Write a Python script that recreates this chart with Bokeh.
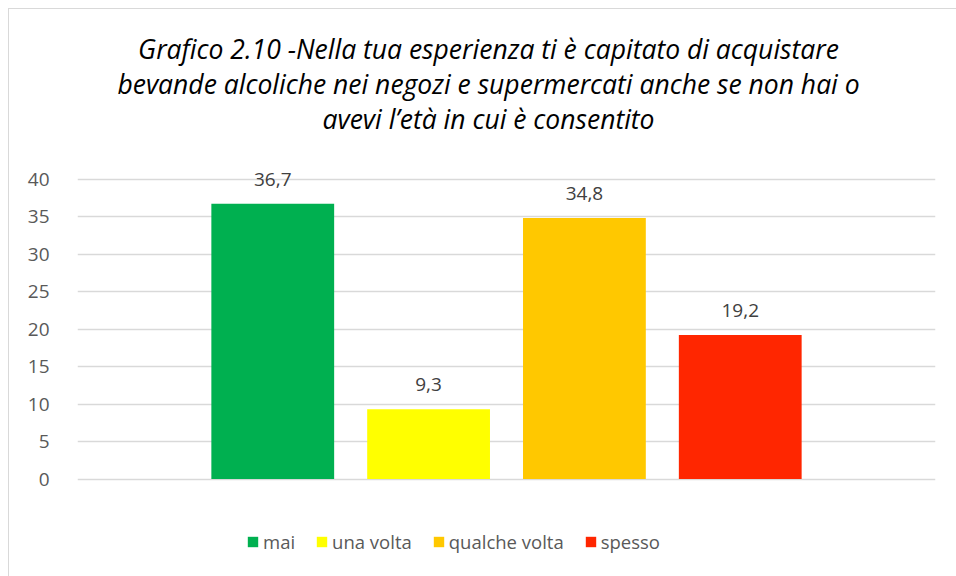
from bokeh.plotting import figure
from bokeh.models import Range1d, Label, LabelSet, ColumnDataSource, Legend, LegendItem, FixedTicker
from bokeh.core.properties import value
from bokeh.embed import file_html
from bokeh.resources import INLINE

categories = ["mai", "una volta", "qualche volta", "spesso"]
values = [36.7, 9.3, 34.8, 19.2]
colors = ["#00B050", "#FFFF00", "#FFC800", "#FF2600"]
title_lines = [
    "Grafico 2.10 -Nella tua esperienza ti è capitato di acquistare",
    "bevande alcoliche nei negozi e supermercati anche se non hai o",
    "avevi l\u2019età in cui è consentito",
]
y_ticks = [0, 5, 10, 15, 20, 25, 30, 35, 40]

W, H = 948, 568
p = figure(width=W, height=H, output_backend="svg", toolbar_location=None,
           x_range=Range1d(-1.253, 4.253), y_range=Range1d(-13.13, 62.6),
           min_border_left=68, min_border_right=22, min_border_top=0, min_border_bottom=0)
p.styles = {"border-top": "1px solid #D9D9D9", "border-left": "1px solid #D9D9D9",
            "box-sizing": "border-box", "margin-left": "8px", "margin-top": "8px"}
p.outline_line_color = None
p.xaxis.visible = False
p.xgrid.visible = False
p.yaxis.ticker = FixedTicker(ticks=y_ticks)
p.yaxis.axis_line_color = None
p.yaxis.major_tick_line_color = None
p.yaxis.minor_tick_line_color = None
p.yaxis.major_label_standoff = 22
p.yaxis.major_label_text_font = "Open Sans"
p.yaxis.major_label_text_font_size = "19px"
p.yaxis.major_label_text_color = "#595959"
p.ygrid.grid_line_color = "#D9D9D9"
p.ygrid.grid_line_width = 1.5

src = ColumnDataSource(dict(
    x=list(range(len(categories))),
    top=values,
    color=colors,
    cat=categories,
    lab=[f"{v:.1f}".replace(".", ",") for v in values],
))
r = p.vbar(x="x", top="top", width=0.788, fill_color="color", line_color=None, source=src)

labels = LabelSet(x="x", y="top", text="lab", source=src, text_align="center",
                  text_baseline="alphabetic", y_offset=18, text_font=value("Open Sans"),
                  text_font_size=value("19px"), text_color="#404040")
p.add_layout(labels)

items = [LegendItem(label=c, renderers=[r], index=i) for i, c in enumerate(categories)]
legend = Legend(items=items, orientation="horizontal", location=(169, 23),
                padding=0, spacing=20, glyph_width=13, glyph_height=13, label_standoff=4,
                label_text_font="Open Sans", label_text_font_size="18.5px",
                label_text_color="#595959", border_line_color=None, background_fill_alpha=0)
p.add_layout(legend, "center")

for i, line in enumerate(title_lines):
    p.add_layout(Label(x=411, y=529 - 35 * i, x_units="screen", y_units="screen", text=line,
                       text_align="center", text_baseline="alphabetic", text_font="Open Sans",
                       text_font_style="italic", text_font_size="26.5px", text_color="#000000"))

open("out.html", "w").write(file_html(p, INLINE))
